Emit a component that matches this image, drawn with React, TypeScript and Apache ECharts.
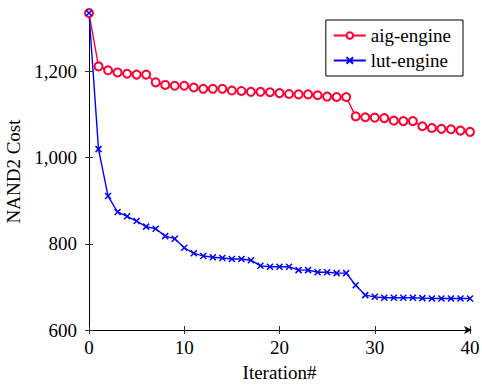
import React, { useEffect, useRef } from "react";
import * as echarts from "echarts";

const iterations = [0,1,2,3,4,5,6,7,8,9,10,11,12,13,14,15,16,17,18,19,20,21,22,23,24,25,26,27,28,29,30,31,32,33,34,35,36,37,38,39,40];
const aigEngine = [1336,1212,1203,1198,1195,1193,1193,1175,1169,1167,1167,1163,1160,1160,1160,1156,1155,1153,1153,1152,1150,1148,1147,1147,1145,1142,1141,1141,1096,1094,1093,1092,1086,1085,1085,1073,1069,1067,1066,1063,1060];
const lutEngine = [1336,1020,911,874,864,853,840,835,818,812,791,778,772,769,767,765,765,762,749,747,747,747,739,739,734,734,732,732,704,681,677,675,675,675,675,674,673,673,673,673,673];
const xTicks = [0, 10, 20, 30, 40];
const yTicks = [600, 800, 1000, 1200];

const FONT = "'Liberation Serif', 'Times New Roman', 'DejaVu Serif', serif";
const FS = 19;

export default function App() {
  const ref = useRef<HTMLDivElement>(null);
  useEffect(() => {
    if (!ref.current) return;
    const chart = echarts.init(ref.current, null, { renderer: "svg" });
    const axisBase = {
      type: "value" as const,
      splitLine: { show: false },
    };
    chart.setOption({
      animation: false,
      backgroundColor: "#fff",
      textStyle: { fontFamily: FONT },
      grid: { left: 89, right: 12, top: 13, bottom: 56, containLabel: false, outerBoundsMode: "none" },
      legend: {
        orient: "vertical",
        right: 19,
        top: 20,
        borderColor: "#000",
        borderWidth: 1,
        borderRadius: 0,
        padding: [6, 12, 6, 7],
        itemGap: 6,
        itemWidth: 32,
        itemHeight: 8,
        textStyle: { fontFamily: FONT, fontSize: FS, color: "#000" },
        data: ["aig-engine", "lut-engine"],
      },
      xAxis: [
        {
          ...axisBase,
          min: 0,
          max: 40,
          interval: 10,
          position: "bottom",
          name: "Iteration#",
          nameLocation: "middle",
          nameGap: 33,
          nameTextStyle: { fontFamily: FONT, fontSize: FS, color: "#000" },
          axisLine: { show: true, lineStyle: { color: "#000", width: 1 }, symbol: ["none", "arrow"], symbolSize: [6, 8], symbolOffset: [0, 2] },
          axisTick: { show: true, inside: false, length: 4, lineStyle: { color: "#333" }, customValues: xTicks },
          axisLabel: { show: true, margin: 8, fontFamily: FONT, fontSize: FS, color: "#000", customValues: xTicks },
        },
        {
          ...axisBase,
          min: 0,
          max: 40,
          interval: 10,
          position: "bottom",
          axisLine: { show: false },
          axisTick: { show: true, inside: true, length: 4, lineStyle: { color: "#333" }, customValues: xTicks },
          axisLabel: { show: false },
        },
      ],
      yAxis: [
        {
          ...axisBase,
          min: 600,
          max: 1336,
          interval: 200,
          position: "left",
          name: "NAND2 Cost",
          nameLocation: "middle",
          nameGap: 52,
          nameTextStyle: { fontFamily: FONT, fontSize: FS, color: "#000" },
          axisLine: { show: true, lineStyle: { color: "#000", width: 1 } },
          axisTick: { show: true, inside: false, length: 4, lineStyle: { color: "#333" }, customValues: yTicks },
          axisLabel: {
            show: true,
            margin: 12,
            fontFamily: FONT,
            fontSize: FS,
            color: "#000",
            customValues: yTicks,
            formatter: (v: number) => v.toLocaleString("en-US"),
          },
        },
        {
          ...axisBase,
          min: 600,
          max: 1336,
          interval: 200,
          position: "left",
          axisLine: { show: false },
          axisTick: { show: true, inside: true, length: 4, lineStyle: { color: "#333" }, customValues: yTicks },
          axisLabel: { show: false },
        },
      ],
      series: [
        {
          name: "aig-engine",
          type: "line",
          xAxisIndex: 0,
          yAxisIndex: 0,
          data: iterations.map((x, i) => [x, aigEngine[i]]),
          symbol: "emptyCircle",
          symbolSize: 8,
          lineStyle: { color: "#ff0033", width: 1.4 },
          itemStyle: { color: "#ff0033", borderColor: "#ff0033", borderWidth: 1.4 },
        },
        {
          name: "lut-engine",
          type: "line",
          xAxisIndex: 0,
          yAxisIndex: 0,
          data: iterations.map((x, i) => [x, lutEngine[i]]),
          symbol: "path://M0,0L10,10M10,0L0,10",
          symbolSize: 6,
          lineStyle: { color: "#0000ff", width: 1.4 },
          itemStyle: { color: "#0000ff", borderColor: "#0000ff", borderWidth: 1.5 },
        },
      ],
    });
    return () => chart.dispose();
  }, []);
  return <div ref={ref} style={{ position: "fixed", left: 0, top: 0, width: 482, height: 386 }} />;
}
